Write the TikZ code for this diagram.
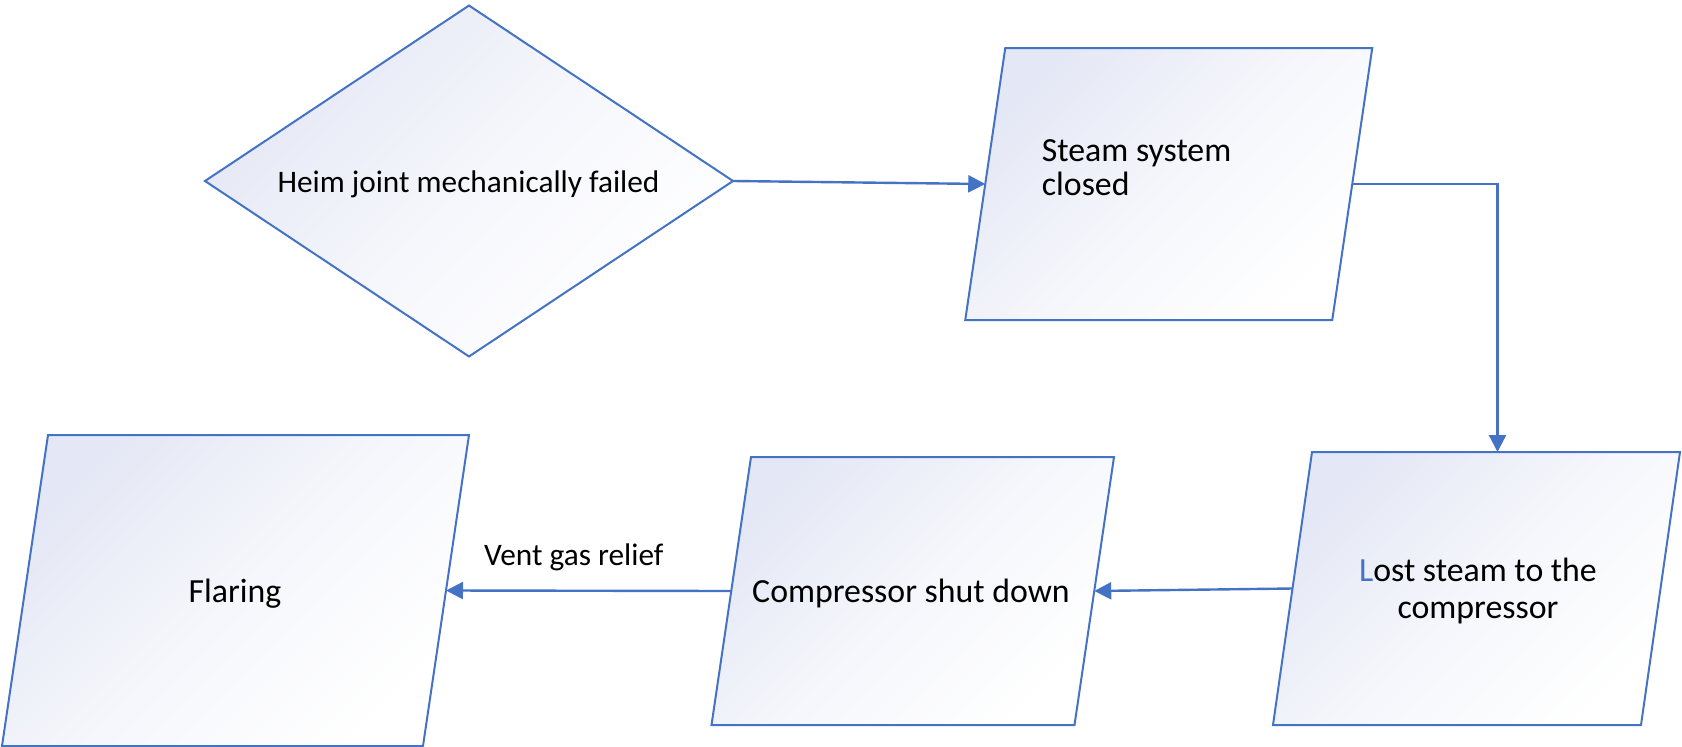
\documentclass[tikz,border=0pt]{standalone}
\usepackage{fontspec}
\setmainfont{Carlito}
\usetikzlibrary{shapes.geometric,arrows.meta,backgrounds}
\definecolor{lineblue}{HTML}{4472C4}
\definecolor{lav}{HTML}{E4E7F5}
\tikzset{
  x=1pt, y=-1pt,
  conn/.style={draw=lineblue, line width=2.4pt, -{Triangle[length=17pt,width=17pt]}},
  boxnode/.style={rectangle, inner sep=0pt, outer sep=0pt},
  shapefill/.style={draw=lineblue, line width=2pt, top color=lav, bottom color=white,
    middle color=lav!35!white, shading angle=45},
  bigtxt/.style={font=\fontsize{33.8}{36}\selectfont, inner sep=0pt},
  smalltxt/.style={font=\fontsize{31.3}{36}\selectfont, inner sep=0pt},
}
\begin{document}
\begin{tikzpicture}
\useasboundingbox (0,0) rectangle (1682,747);

% decision diamond
\node[diamond, shapefill, minimum width=528pt, minimum height=351pt,
      inner sep=0pt, outer sep=0pt] (fail) at (469,181) {};

% process boxes (parallelograms drawn behind, from the box anchors)
\node[boxnode, minimum width=367pt, minimum height=272pt] (steam) at (1168.75,184) {};
\node[boxnode, minimum width=368pt, minimum height=273pt] (lost)  at (1476.5,588.5) {};
\node[boxnode, minimum width=363pt, minimum height=268pt] (comp)  at (912.75,591) {};
\node[boxnode, minimum width=421pt, minimum height=311pt] (flare) at (235.5,590.5) {};

\begin{scope}[on background layer]
  \foreach \n/\s in {steam/20,lost/19.5,comp/19.75,flare/23}{
    \path[shapefill] ([xshift=\s pt]\n.north west) -- ([xshift=\s pt]\n.north east)
      -- ([xshift=-\s pt]\n.south east) -- ([xshift=-\s pt]\n.south west) -- cycle;
  }
\end{scope}

% texts (multi-line nodes are anchored at the baseline of their last line)
\node[smalltxt, anchor=base] (tfail) at (468.5,192.3) {Heim joint mechanically failed};
\node[bigtxt, anchor=base west, align=left, font=\fontsize{33.8}{33.3}\selectfont]
  (tsteam) at (1041.7,195) {Steam system\\closed};
\node[bigtxt, anchor=base, align=center, font=\fontsize{33.8}{36.6}\selectfont]
  (tlost) at (1478,618.3) {\textcolor{lineblue}{L}ost steam to the\\compressor};
\node[bigtxt, anchor=base] (tcomp) at (911,602.7) {Compressor shut down};
\node[bigtxt, anchor=base] (tflare) at (235,602.7) {Flaring};

% connectors
\draw[conn] (fail.east) -- (steam.west);
\draw[conn] (steam.east) -| ([xshift=21pt]lost.north);
\draw[conn] (lost.west) -- (comp.east);
\draw[conn] (comp.west) -- node[smalltxt, pos=0.552, anchor=base, yshift=25.5pt] (vent)
  {Vent gas relief} (flare.east);
\end{tikzpicture}
\end{document}
